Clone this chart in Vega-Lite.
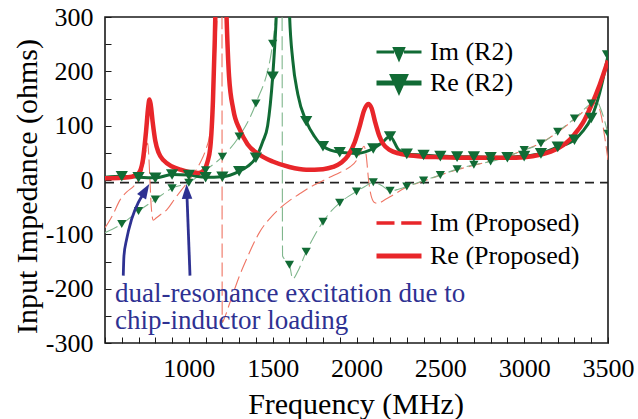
{
  "$schema": "https://vega.github.io/schema/vega-lite/v6.json",
  "width": 503,
  "height": 326,
  "autosize": {"type": "none"},
  "padding": {"left": 105, "top": 17, "right": 30, "bottom": 76},
  "background": "white",
  "config": {
    "view": {"stroke": "#1a1a1a", "strokeWidth": 1.6},
    "font": "Liberation Serif"
  },
  "datasets": {
    "curves": [
      {"s": "Re (Proposed)", "f": 500, "v": 3}, {"s": "Re (Proposed)", "f": 600, "v": 4}, {"s": "Re (Proposed)", "f": 660, "v": 6},
      {"s": "Re (Proposed)", "f": 700, "v": 12}, {"s": "Re (Proposed)", "f": 725, "v": 35}, {"s": "Re (Proposed)", "f": 745, "v": 90},
      {"s": "Re (Proposed)", "f": 758, "v": 135}, {"s": "Re (Proposed)", "f": 765, "v": 148}, {"s": "Re (Proposed)", "f": 772, "v": 140},
      {"s": "Re (Proposed)", "f": 785, "v": 105}, {"s": "Re (Proposed)", "f": 800, "v": 72}, {"s": "Re (Proposed)", "f": 820, "v": 50},
      {"s": "Re (Proposed)", "f": 850, "v": 36}, {"s": "Re (Proposed)", "f": 900, "v": 25}, {"s": "Re (Proposed)", "f": 950, "v": 19},
      {"s": "Re (Proposed)", "f": 1000, "v": 15}, {"s": "Re (Proposed)", "f": 1060, "v": 13}, {"s": "Re (Proposed)", "f": 1090, "v": 18},
      {"s": "Re (Proposed)", "f": 1110, "v": 32}, {"s": "Re (Proposed)", "f": 1128, "v": 60}, {"s": "Re (Proposed)", "f": 1144, "v": 147},
      {"s": "Re (Proposed)", "f": 1155, "v": 260}, {"s": "Re (Proposed)", "f": 1165, "v": 400}, {"s": "Re (Proposed)", "f": 1185, "v": 560},
      {"s": "Re (Proposed)", "f": 1205, "v": 560}, {"s": "Re (Proposed)", "f": 1225, "v": 300}, {"s": "Re (Proposed)", "f": 1240, "v": 190},
      {"s": "Re (Proposed)", "f": 1265, "v": 130}, {"s": "Re (Proposed)", "f": 1305, "v": 92}, {"s": "Re (Proposed)", "f": 1350, "v": 66},
      {"s": "Re (Proposed)", "f": 1424, "v": 46}, {"s": "Re (Proposed)", "f": 1500, "v": 34}, {"s": "Re (Proposed)", "f": 1600, "v": 24},
      {"s": "Re (Proposed)", "f": 1700, "v": 19}, {"s": "Re (Proposed)", "f": 1800, "v": 20},
      {"s": "Re (Proposed)", "f": 1860, "v": 24}, {"s": "Re (Proposed)", "f": 1910, "v": 32}, {"s": "Re (Proposed)", "f": 1950, "v": 45},
      {"s": "Re (Proposed)", "f": 1990, "v": 70}, {"s": "Re (Proposed)", "f": 2020, "v": 100}, {"s": "Re (Proposed)", "f": 2045, "v": 128},
      {"s": "Re (Proposed)", "f": 2070, "v": 140}, {"s": "Re (Proposed)", "f": 2090, "v": 132}, {"s": "Re (Proposed)", "f": 2110, "v": 108},
      {"s": "Re (Proposed)", "f": 2135, "v": 82}, {"s": "Re (Proposed)", "f": 2160, "v": 66}, {"s": "Re (Proposed)", "f": 2200, "v": 55},
      {"s": "Re (Proposed)", "f": 2250, "v": 49}, {"s": "Re (Proposed)", "f": 2300, "v": 46}, {"s": "Re (Proposed)", "f": 2400, "v": 43},
      {"s": "Re (Proposed)", "f": 2500, "v": 42}, {"s": "Re (Proposed)", "f": 2700, "v": 41}, {"s": "Re (Proposed)", "f": 2900, "v": 41},
      {"s": "Re (Proposed)", "f": 3000, "v": 42}, {"s": "Re (Proposed)", "f": 3100, "v": 47}, {"s": "Re (Proposed)", "f": 3200, "v": 58},
      {"s": "Re (Proposed)", "f": 3250, "v": 68}, {"s": "Re (Proposed)", "f": 3300, "v": 84}, {"s": "Re (Proposed)", "f": 3350, "v": 105},
      {"s": "Re (Proposed)", "f": 3400, "v": 137}, {"s": "Re (Proposed)", "f": 3450, "v": 175}, {"s": "Re (Proposed)", "f": 3500, "v": 220},

      {"s": "Im (Proposed)", "f": 500, "v": -88}, {"s": "Im (Proposed)", "f": 550, "v": -62}, {"s": "Im (Proposed)", "f": 589, "v": -37},
      {"s": "Im (Proposed)", "f": 630, "v": -22}, {"s": "Im (Proposed)", "f": 669, "v": -12}, {"s": "Im (Proposed)", "f": 700, "v": 0},
      {"s": "Im (Proposed)", "f": 728, "v": 24}, {"s": "Im (Proposed)", "f": 745, "v": 55}, {"s": "Im (Proposed)", "f": 755, "v": 68},
      {"s": "Im (Proposed)", "f": 762, "v": 40}, {"s": "Im (Proposed)", "f": 768, "v": 0}, {"s": "Im (Proposed)", "f": 776, "v": -50},
      {"s": "Im (Proposed)", "f": 788, "v": -74}, {"s": "Im (Proposed)", "f": 805, "v": -70}, {"s": "Im (Proposed)", "f": 830, "v": -64},
      {"s": "Im (Proposed)", "f": 868, "v": -55}, {"s": "Im (Proposed)", "f": 920, "v": -33}, {"s": "Im (Proposed)", "f": 987, "v": -6},
      {"s": "Im (Proposed)", "f": 1030, "v": 12}, {"s": "Im (Proposed)", "f": 1066, "v": 31}, {"s": "Im (Proposed)", "f": 1100, "v": 55},
      {"s": "Im (Proposed)", "f": 1126, "v": 86}, {"s": "Im (Proposed)", "f": 1145, "v": 150}, {"s": "Im (Proposed)", "f": 1160, "v": 240},
      {"s": "Im (Proposed)", "f": 1172, "v": 330}, {"s": "Im (Proposed)", "f": 1185, "v": 480}, {"s": "Im (Proposed)", "f": 1197, "v": 600},
      {"s": "Im (Proposed)", "f": 1199, "v": -262}, {"s": "Im (Proposed)", "f": 1215, "v": -252}, {"s": "Im (Proposed)", "f": 1240, "v": -230},
      {"s": "Im (Proposed)", "f": 1265, "v": -208}, {"s": "Im (Proposed)", "f": 1300, "v": -178}, {"s": "Im (Proposed)", "f": 1345, "v": -145},
      {"s": "Im (Proposed)", "f": 1424, "v": -95}, {"s": "Im (Proposed)", "f": 1500, "v": -65}, {"s": "Im (Proposed)", "f": 1543, "v": -52},
      {"s": "Im (Proposed)", "f": 1600, "v": -38}, {"s": "Im (Proposed)", "f": 1663, "v": -25}, {"s": "Im (Proposed)", "f": 1720, "v": -14},
      {"s": "Im (Proposed)", "f": 1782, "v": -4}, {"s": "Im (Proposed)", "f": 1840, "v": 5}, {"s": "Im (Proposed)", "f": 1901, "v": 14},
      {"s": "Im (Proposed)", "f": 1960, "v": 24}, {"s": "Im (Proposed)", "f": 2000, "v": 36}, {"s": "Im (Proposed)", "f": 2025, "v": 52},
      {"s": "Im (Proposed)", "f": 2045, "v": 62}, {"s": "Im (Proposed)", "f": 2058, "v": 45}, {"s": "Im (Proposed)", "f": 2072, "v": 0},
      {"s": "Im (Proposed)", "f": 2090, "v": -32}, {"s": "Im (Proposed)", "f": 2110, "v": -42}, {"s": "Im (Proposed)", "f": 2130, "v": -43},
      {"s": "Im (Proposed)", "f": 2160, "v": -38}, {"s": "Im (Proposed)", "f": 2200, "v": -31}, {"s": "Im (Proposed)", "f": 2300, "v": -13},
      {"s": "Im (Proposed)", "f": 2400, "v": -2}, {"s": "Im (Proposed)", "f": 2500, "v": 9}, {"s": "Im (Proposed)", "f": 2600, "v": 19},
      {"s": "Im (Proposed)", "f": 2700, "v": 27}, {"s": "Im (Proposed)", "f": 2800, "v": 35}, {"s": "Im (Proposed)", "f": 2900, "v": 44},
      {"s": "Im (Proposed)", "f": 3000, "v": 55}, {"s": "Im (Proposed)", "f": 3100, "v": 68}, {"s": "Im (Proposed)", "f": 3200, "v": 88},
      {"s": "Im (Proposed)", "f": 3300, "v": 112}, {"s": "Im (Proposed)", "f": 3400, "v": 137}, {"s": "Im (Proposed)", "f": 3430, "v": 142},
      {"s": "Im (Proposed)", "f": 3460, "v": 118}, {"s": "Im (Proposed)", "f": 3480, "v": 80}, {"s": "Im (Proposed)", "f": 3500, "v": 37},

      {"s": "Im (R2)", "f": 500, "v": -97}, {"s": "Im (R2)", "f": 600, "v": -81}, {"s": "Im (R2)", "f": 700, "v": -57},
      {"s": "Im (R2)", "f": 800, "v": -36}, {"s": "Im (R2)", "f": 900, "v": -15}, {"s": "Im (R2)", "f": 1000, "v": -5},
      {"s": "Im (R2)", "f": 1100, "v": 18}, {"s": "Im (R2)", "f": 1200, "v": 43}, {"s": "Im (R2)", "f": 1300, "v": 80},
      {"s": "Im (R2)", "f": 1400, "v": 141}, {"s": "Im (R2)", "f": 1500, "v": 251}, {"s": "Im (R2)", "f": 1525, "v": 330},
      {"s": "Im (R2)", "f": 1545, "v": 430}, {"s": "Im (R2)", "f": 1555, "v": 430}, {"s": "Im (R2)", "f": 1559, "v": -140},
      {"s": "Im (R2)", "f": 1580, "v": -148}, {"s": "Im (R2)", "f": 1600, "v": -156}, {"s": "Im (R2)", "f": 1620, "v": -182},
      {"s": "Im (R2)", "f": 1650, "v": -168}, {"s": "Im (R2)", "f": 1700, "v": -132}, {"s": "Im (R2)", "f": 1750, "v": -102},
      {"s": "Im (R2)", "f": 1800, "v": -77}, {"s": "Im (R2)", "f": 1850, "v": -57}, {"s": "Im (R2)", "f": 1900, "v": -42},
      {"s": "Im (R2)", "f": 2000, "v": -21}, {"s": "Im (R2)", "f": 2050, "v": -12}, {"s": "Im (R2)", "f": 2100, "v": -4},
      {"s": "Im (R2)", "f": 2150, "v": -10}, {"s": "Im (R2)", "f": 2200, "v": -20}, {"s": "Im (R2)", "f": 2250, "v": -17},
      {"s": "Im (R2)", "f": 2300, "v": -12}, {"s": "Im (R2)", "f": 2400, "v": -1}, {"s": "Im (R2)", "f": 2500, "v": 9},
      {"s": "Im (R2)", "f": 2600, "v": 20}, {"s": "Im (R2)", "f": 2700, "v": 28}, {"s": "Im (R2)", "f": 2800, "v": 34},
      {"s": "Im (R2)", "f": 2900, "v": 43}, {"s": "Im (R2)", "f": 3000, "v": 55}, {"s": "Im (R2)", "f": 3100, "v": 67},
      {"s": "Im (R2)", "f": 3200, "v": 89}, {"s": "Im (R2)", "f": 3300, "v": 113}, {"s": "Im (R2)", "f": 3400, "v": 141},
      {"s": "Im (R2)", "f": 3430, "v": 146}, {"s": "Im (R2)", "f": 3460, "v": 128}, {"s": "Im (R2)", "f": 3500, "v": 85},

      {"s": "Re (R2)", "f": 500, "v": 5}, {"s": "Re (R2)", "f": 600, "v": 7}, {"s": "Re (R2)", "f": 700, "v": 5},
      {"s": "Re (R2)", "f": 800, "v": 4}, {"s": "Re (R2)", "f": 900, "v": 10}, {"s": "Re (R2)", "f": 1000, "v": 9},
      {"s": "Re (R2)", "f": 1100, "v": 5}, {"s": "Re (R2)", "f": 1200, "v": 6}, {"s": "Re (R2)", "f": 1300, "v": 16},
      {"s": "Re (R2)", "f": 1350, "v": 25}, {"s": "Re (R2)", "f": 1400, "v": 41}, {"s": "Re (R2)", "f": 1440, "v": 70},
      {"s": "Re (R2)", "f": 1470, "v": 100}, {"s": "Re (R2)", "f": 1500, "v": 190}, {"s": "Re (R2)", "f": 1520, "v": 290},
      {"s": "Re (R2)", "f": 1540, "v": 450}, {"s": "Re (R2)", "f": 1565, "v": 560}, {"s": "Re (R2)", "f": 1590, "v": 430},
      {"s": "Re (R2)", "f": 1600, "v": 310}, {"s": "Re (R2)", "f": 1620, "v": 220}, {"s": "Re (R2)", "f": 1650, "v": 158},
      {"s": "Re (R2)", "f": 1700, "v": 108}, {"s": "Re (R2)", "f": 1750, "v": 80}, {"s": "Re (R2)", "f": 1800, "v": 62},
      {"s": "Re (R2)", "f": 1900, "v": 51}, {"s": "Re (R2)", "f": 2000, "v": 49}, {"s": "Re (R2)", "f": 2100, "v": 58},
      {"s": "Re (R2)", "f": 2150, "v": 68}, {"s": "Re (R2)", "f": 2200, "v": 80}, {"s": "Re (R2)", "f": 2250, "v": 56},
      {"s": "Re (R2)", "f": 2300, "v": 48}, {"s": "Re (R2)", "f": 2400, "v": 46}, {"s": "Re (R2)", "f": 2500, "v": 44},
      {"s": "Re (R2)", "f": 2600, "v": 43}, {"s": "Re (R2)", "f": 2700, "v": 43}, {"s": "Re (R2)", "f": 2800, "v": 42},
      {"s": "Re (R2)", "f": 2900, "v": 42}, {"s": "Re (R2)", "f": 3000, "v": 44}, {"s": "Re (R2)", "f": 3100, "v": 49},
      {"s": "Re (R2)", "f": 3200, "v": 61}, {"s": "Re (R2)", "f": 3300, "v": 74}, {"s": "Re (R2)", "f": 3350, "v": 90},
      {"s": "Re (R2)", "f": 3400, "v": 114}, {"s": "Re (R2)", "f": 3450, "v": 160}, {"s": "Re (R2)", "f": 3500, "v": 229}
    ],
    "keyR2": [{"s": "Im (R2)"}, {"s": "Re (R2)"}],
    "keyProposed": [{"s": "Im (Proposed)"}, {"s": "Re (Proposed)"}],
    "arrows": [
      {"a": 1, "f": 609, "v": -176}, {"a": 1, "f": 613, "v": -140}, {"a": 1, "f": 629, "v": -109},
      {"a": 1, "f": 659, "v": -72}, {"a": 1, "f": 699, "v": -41}, {"a": 1, "f": 726, "v": -27},
      {"a": 2, "f": 1007, "v": -176}, {"a": 2, "f": 989, "v": -30}
    ],
    "arrowheads": [
      {"a": 1, "f": 741, "v": -19, "dir": 31},
      {"a": 2, "f": 988, "v": -21, "dir": -2}
    ],
    "notes": [
      {"f": 560, "v": -209, "t": "dual-resonance excitation due to"},
      {"f": 560, "v": -260, "t": "chip-inductor loading"}
    ],
    "zeroline": [{"f": 500, "v": -5}, {"f": 3500, "v": -5}]
  },
  "encoding": {
    "x": {
      "field": "f", "type": "quantitative",
      "scale": {"domain": [500, 3500], "nice": false, "zero": false},
      "axis": {
        "values": [500, 600, 700, 800, 900, 1000, 1100, 1200, 1300, 1400, 1500, 1600, 1700, 1800, 1900, 2000, 2100, 2200, 2300, 2400, 2500, 2600, 2700, 2800, 2900, 3000, 3100, 3200, 3300, 3400, 3500],
        "labelExpr": "datum.value % 500 === 0 && datum.value > 500 ? '' + datum.value : ''",
        "tickSize": -6, "tickColor": "#1a1a1a", "tickWidth": 1,
        "domain": false, "grid": false,
        "labelFont": "Liberation Serif", "labelFontSize": 26, "labelColor": "#000",
        "labelPadding": 18, "labelFlush": false, "labelOverlap": false,
        "title": "Frequency (MHz)",
        "titleFont": "Liberation Serif", "titleFontSize": 30, "titleFontWeight": "normal", "titleColor": "#000",
        "titleX": 250.5, "titleY": 70, "titleBaseline": "alphabetic", "titleAlign": "center"
      }
    },
    "y": {
      "field": "v", "type": "quantitative",
      "scale": {"domain": [-300, 300], "nice": false, "zero": false},
      "axis": {
        "values": [-300, -250, -200, -150, -100, -50, 0, 50, 100, 150, 200, 250, 300],
        "labelExpr": "datum.value % 100 === 0 ? '' + datum.value : ''",
        "tickSize": -6, "tickColor": "#1a1a1a", "tickWidth": 1,
        "domain": false, "grid": false,
        "labelFont": "Liberation Serif", "labelFontSize": 26, "labelColor": "#000",
        "labelPadding": 18, "labelFlush": false, "labelOverlap": false,
        "title": "Input Impedance (ohms)",
        "titleFont": "Liberation Serif", "titleFontSize": 30, "titleFontWeight": "normal", "titleColor": "#000",
        "titleAngle": 270, "titleX": -69, "titleY": 169, "titleBaseline": "alphabetic", "titleAlign": "center"
      }
    }
  },
  "resolve": {"scale": {"shape": "independent"}, "legend": {"shape": "independent"}},
  "layer": [
    {
      "data": {"name": "zeroline"},
      "mark": {"type": "line", "color": "#222", "strokeWidth": 1.8, "strokeDash": [9, 6]}
    },
    {
      "data": {"name": "curves"},
      "transform": [{"filter": "datum.s === 'Im (Proposed)'"}],
      "mark": {"type": "line", "color": "#ef7463", "strokeWidth": 1.1, "strokeDash": [14, 5], "interpolate": "monotone", "clip": true}
    },
    {
      "data": {"name": "curves"},
      "transform": [{"filter": "datum.s === 'Im (R2)'"}],
      "mark": {"type": "line", "color": "#7fb68c", "strokeWidth": 1.1, "strokeDash": [14, 5], "interpolate": "monotone", "clip": true}
    },
    {
      "data": {"name": "curves"},
      "transform": [{"filter": "datum.s === 'Re (R2)'"}],
      "mark": {"type": "line", "color": "#116b35", "strokeWidth": 3, "interpolate": "monotone", "clip": true}
    },
    {
      "data": {"name": "curves"},
      "transform": [{"filter": "datum.s === 'Re (Proposed)'"}],
      "mark": {"type": "line", "color": "#e8262a", "strokeWidth": 4.5, "interpolate": "monotone", "clip": true}
    },
    {
      "data": {"name": "curves"},
      "transform": [
        {"filter": "(datum.s === 'Im (R2)' || datum.s === 'Re (R2)') && datum.f % 100 === 0 && datum.f >= 600 && abs(datum.v) <= 300"}
      ],
      "mark": {"type": "point", "filled": true, "color": "#116b35", "opacity": 1, "shape": "triangle-down", "clip": true},
      "encoding": {
        "size": {"condition": {"test": "datum.s === 'Re (R2)'", "value": 150}, "value": 85}
      }
    },
    {
      "data": {"name": "keyR2"},
      "mark": {"type": "point", "filled": true, "color": "#116b35", "opacity": 0},
      "encoding": {
        "shape": {
          "field": "s", "type": "nominal",
          "scale": {
            "domain": ["Im (R2)", "Re (R2)"],
            "range": [
              "M-1.5,-0.1H-0.33V0.1H-1.5ZM0.33,-0.1H1.5V0.1H0.33ZM-0.45,-0.33H0.45L0,0.7Z",
              "M-1.5,-0.167H1.5V0.167H-1.5ZM-0.66,-0.6H0.66L0,0.87Z"
            ]
          },
          "legend": {
            "orient": "none", "legendX": 279, "legendY": 20, "title": null, "padding": 0,
            "symbolSize": 900, "symbolStrokeWidth": 0, "symbolOpacity": 1, "symbolFillColor": "#116b35",
            "labelOffset": 16, "rowPadding": 3,
            "labelFont": "Liberation Serif", "labelFontSize": 26, "labelColor": "#000", "labelLimit": 300
          }
        }
      }
    },
    {
      "data": {"name": "keyProposed"},
      "mark": {"type": "point", "filled": true, "color": "#e8262a", "opacity": 0},
      "encoding": {
        "shape": {
          "field": "s", "type": "nominal",
          "scale": {
            "domain": ["Im (Proposed)", "Re (Proposed)"],
            "range": [
              "M-1.5,-0.117H-0.3V0.117H-1.5ZM0.15,-0.117H1.5V0.117H0.15Z",
              "M-1.5,-0.167H1.5V0.167H-1.5Z"
            ]
          },
          "legend": {
            "orient": "none", "legendX": 279, "legendY": 191, "title": null, "padding": 0,
            "symbolSize": 900, "symbolStrokeWidth": 0, "symbolOpacity": 1, "symbolFillColor": "#e8262a",
            "labelOffset": 16, "rowPadding": 5,
            "labelFont": "Liberation Serif", "labelFontSize": 26, "labelColor": "#000", "labelLimit": 300
          }
        }
      }
    },
    {
      "data": {"name": "arrows"},
      "mark": {"type": "line", "color": "#2e3192", "strokeWidth": 2.8, "interpolate": "monotone"},
      "encoding": {"detail": {"field": "a", "type": "nominal"}}
    },
    {
      "data": {"name": "arrowheads"},
      "mark": {"type": "point", "filled": true, "color": "#2e3192", "opacity": 1, "shape": "M0,-1L-0.7,1L0.7,1Z", "size": 225},
      "encoding": {"angle": {"field": "dir", "type": "quantitative", "scale": null}}
    },
    {
      "data": {"name": "notes"},
      "mark": {"type": "text", "align": "left", "baseline": "middle", "font": "Liberation Serif", "fontSize": 27, "color": "#2e3192"},
      "encoding": {"text": {"field": "t"}}
    }
  ]
}
